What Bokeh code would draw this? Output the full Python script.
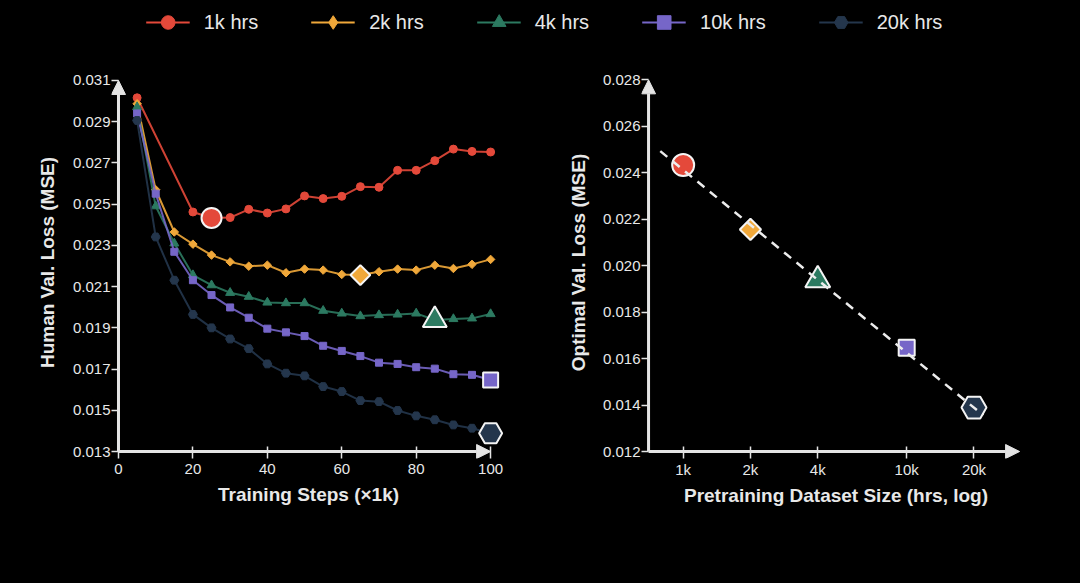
import numpy as np
from bokeh.plotting import figure
from bokeh.models import (Range1d, FixedTicker, Arrow, NormalHead, Legend, LegendItem,
                          PrintfTickFormatter)
from bokeh.layouts import column, row
from bokeh.embed import file_html
from bokeh.resources import INLINE

# ---------------- data ----------------
series_names = ["1k hrs", "2k hrs", "4k hrs", "10k hrs", "20k hrs"]
dataset_hrs = [1000, 2000, 4000, 10000, 20000]
dataset_tick_labels = ["1k", "2k", "4k", "10k", "20k"]

steps = [5, 10, 15, 20, 25, 30, 35, 40, 45, 50, 55, 60, 65, 70, 75, 80, 85, 90, 95, 100]
steps_1k = [5, 20, 25, 30, 35, 40, 45, 50, 55, 60, 65, 70, 75, 80, 85, 90, 95, 100]

loss_1k = [0.03016, 0.02462, 0.02433, 0.02435, 0.02475, 0.02457, 0.02477, 0.02540, 0.02527,
           0.02538, 0.02585, 0.02582, 0.02664, 0.02664, 0.02711, 0.02767, 0.02756, 0.02753]
loss_2k = [0.02987, 0.02570, 0.02365, 0.02306, 0.02253, 0.02220, 0.02199, 0.02204, 0.02167, 0.02185,
           0.02180, 0.02159, 0.02156, 0.02172, 0.02185, 0.02180, 0.02204, 0.02188, 0.02208, 0.02232]
loss_4k = [0.02971, 0.02490, 0.02310, 0.02156, 0.02107, 0.02070, 0.02051, 0.02023, 0.02020, 0.02020,
           0.01983, 0.01970, 0.01957, 0.01962, 0.01965, 0.01970, 0.01938, 0.01943, 0.01946, 0.01967]
loss_10k = [0.02940, 0.02551, 0.02269, 0.02131, 0.02059, 0.01999, 0.01949, 0.01896, 0.01878, 0.01860,
            0.01813, 0.01788, 0.01763, 0.01731, 0.01725, 0.01709, 0.01702, 0.01675, 0.01672, 0.01647]
loss_20k = [0.02906, 0.02341, 0.02131, 0.01965, 0.01900, 0.01846, 0.01799, 0.01725, 0.01680, 0.01667,
            0.01615, 0.01591, 0.01547, 0.01542, 0.01499, 0.01473, 0.01454, 0.01429, 0.01413, 0.01389]

opt_steps = [25, 65, 85, 100, 100]
opt_loss = [0.02433, 0.02156, 0.01938, 0.01647, 0.01389]

fit_hrs = [790, 22000]
fit_loss = [0.02493, 0.01356]

left_yticks = [0.013, 0.015, 0.017, 0.019, 0.021, 0.023, 0.025, 0.027, 0.029, 0.031]
left_xticks = [0, 20, 40, 60, 80, 100]
right_yticks = [0.012, 0.014, 0.016, 0.018, 0.020, 0.022, 0.024, 0.026, 0.028]
right_x_axis_span = [700, 32000]

# ---------------- style ----------------
BG = "#000000"
AX = "#e4e4e4"
TXT = "#e8e8e8"
FONT = "Liberation Sans"
colors = ["#e4493a", "#f0a83a", "#2c7a61", "#7666c8", "#24364c"]
markers = ["circle", "square", "triangle", "square", "hex"]
legend_markers = ["circle", "diamond", "triangle", "square", "hex"]
angles = [0, np.pi / 4, 0, 0, 0]
small_sizes = [8, 6, 9, 7, 9]
big_left = [20, 14, 24, 15, 23]
big_right = [22, 15, 25, 16, 25]


def style(p, xlabel_standoff, xtitle_standoff, ytitle_standoff):
    p.background_fill_color = BG
    p.border_fill_color = BG
    p.outline_line_color = None
    p.grid.visible = False
    for ax in p.axis:
        ax.axis_line_color = None
        ax.major_tick_line_color = AX
        ax.major_tick_line_width = 1.5
        ax.minor_tick_line_color = None
        ax.major_label_text_color = TXT
        ax.major_label_text_font = FONT
        ax.major_label_text_font_size = "15px"
        ax.axis_label_text_color = TXT
        ax.axis_label_text_font = FONT
        ax.axis_label_text_font_size = "19px"
        ax.axis_label_text_font_style = "bold"
    # axes sit 7px outside the drawn axis lines; ticks reach in to the line
    p.xaxis.major_tick_in = 12
    p.xaxis.major_tick_out = 0
    p.yaxis.major_tick_in = 7
    p.yaxis.major_tick_out = 0
    p.xaxis.major_label_standoff = xlabel_standoff
    p.yaxis.major_label_standoff = 1
    p.xaxis.axis_label_standoff = xtitle_standoff
    p.yaxis.axis_label_standoff = ytitle_standoff


def axis_arrow(p, x0, y0, x1, y1):
    p.add_layout(Arrow(end=NormalHead(size=14, fill_color=AX, line_color=AX, line_width=1),
                       x_start=x0, y_start=y0, x_end=x1, y_end=y1,
                       line_color=AX, line_width=3))


# ---------------- legend strip ----------------
lf = figure(frame_width=1060, frame_height=44, min_border=0, min_border_left=14,
            toolbar_location=None, output_backend="svg",
            x_range=Range1d(0, 1), y_range=Range1d(0, 1))
lf.axis.visible = False
lf.grid.visible = False
lf.outline_line_color = None
lf.background_fill_color = BG
lf.border_fill_color = BG
items = []
for name, c, m in zip(series_names, colors, legend_markers):
    rl = lf.line(x=[-5, -4], y=[-5, -4], line_color=c, line_width=2)
    rm = lf.scatter(x=[-5], y=[-5], marker=m, size=10, fill_color=c, line_color=c)
    items.append(LegendItem(label=name, renderers=[rl, rm]))
leg = Legend(items=items, orientation="horizontal", location="center",
             glyph_width=44, glyph_height=34, label_standoff=14, spacing=53,
             label_text_font=FONT, label_text_font_size="20px", label_text_color=TXT,
             background_fill_alpha=0, border_line_alpha=0, padding=0, margin=0)
lf.add_layout(leg, "center")

# ---------------- left plot ----------------
p1 = figure(frame_width=394, frame_height=392, min_border_left=111, min_border_right=36,
            min_border_top=22, min_border_bottom=100, toolbar_location=None,
            output_backend="svg", x_range=Range1d(-1.88, 104), y_range=Range1d(0.012661, 0.031678))
style(p1, 5, 7, 12)
p1.xaxis.axis_label = "Training Steps (×1k)"
p1.yaxis.axis_label = "Human Val. Loss (MSE)"
p1.xaxis.ticker = FixedTicker(ticks=left_xticks)
p1.yaxis.ticker = FixedTicker(ticks=left_yticks)
p1.yaxis.formatter = PrintfTickFormatter(format="%.3f")

all_steps = [steps_1k, steps, steps, steps, steps]
all_loss = [loss_1k, loss_2k, loss_4k, loss_10k, loss_20k]
for xs, ys, c, m, a, s in zip(all_steps, all_loss, colors, markers, angles, small_sizes):
    p1.line(xs, ys, line_color=c, line_width=2, line_alpha=0.9)
    p1.scatter(xs, ys, marker=m, angle=a, size=s, fill_color=c, line_color=c)

axis_arrow(p1, left_xticks[0], left_yticks[0], left_xticks[-1], left_yticks[0])
axis_arrow(p1, left_xticks[0], left_yticks[0], left_xticks[0], left_yticks[-1])

for i in range(5):
    p1.scatter([opt_steps[i]], [opt_loss[i]], marker=markers[i], angle=angles[i],
               size=big_left[i], fill_color=colors[i], line_color="#f4f4f4", line_width=2)

# ---------------- right plot ----------------
p2 = figure(frame_width=389, frame_height=392, min_border_left=100, min_border_right=44,
            min_border_top=22, min_border_bottom=100, toolbar_location=None,
            output_backend="svg", x_axis_type="log",
            x_range=Range1d(651, 35800), y_range=Range1d(0.011699, 0.028574))
style(p2, 2, 4, 11)
p2.xaxis.axis_label = "Pretraining Dataset Size (hrs, log)"
p2.yaxis.axis_label = "Optimal Val. Loss (MSE)"
p2.xaxis.ticker = FixedTicker(ticks=dataset_hrs)
p2.xaxis.major_label_overrides = {h: lab for h, lab in zip(dataset_hrs, dataset_tick_labels)}
p2.yaxis.ticker = FixedTicker(ticks=right_yticks)
p2.yaxis.formatter = PrintfTickFormatter(format="%.3f")

axis_arrow(p2, right_x_axis_span[0], right_yticks[0], right_x_axis_span[1], right_yticks[0])
axis_arrow(p2, right_x_axis_span[0], right_yticks[0], right_x_axis_span[0], right_yticks[-1])

for i in range(5):
    p2.scatter([dataset_hrs[i]], [opt_loss[i]], marker=markers[i], angle=angles[i],
               size=big_right[i], fill_color=colors[i], line_color="#f4f4f4", line_width=2)
p2.line(fit_hrs, fit_loss, line_color="#ececec", line_width=2.5, line_dash="9 7")

layout = column(lf, row(p1, p2, spacing=0), spacing=0)
layout.styles = {"background-color": BG}

html = file_html(layout, INLINE, title="chart")
html = html.replace("</head>", "<style>html,body{background:#000 !important;}</style></head>", 1)
open("out.html", "w").write(html)
